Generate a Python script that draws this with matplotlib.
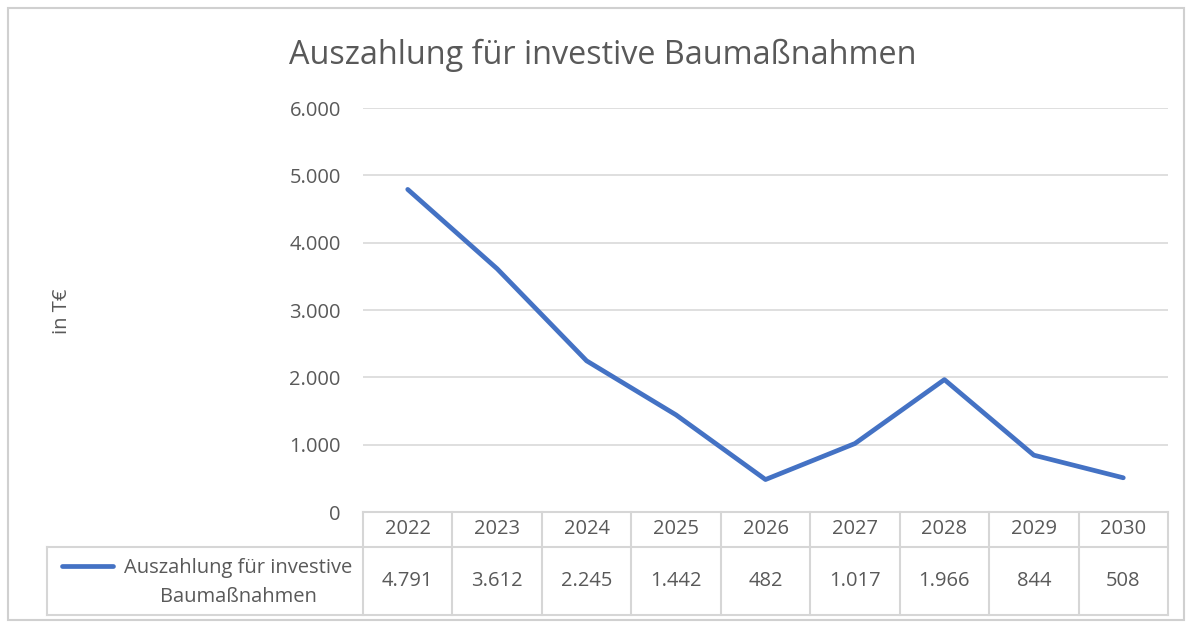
# Excel-style line chart with data table below
import matplotlib
matplotlib.use("Agg")
import matplotlib.pyplot as plt
from matplotlib.patches import Rectangle
from matplotlib.lines import Line2D

years = ["2022", "2023", "2024", "2025", "2026", "2027", "2028", "2029", "2030"]
values = [4791, 3612, 2245, 1442, 482, 1017, 1966, 844, 508]
value_labels = ["4.791", "3.612", "2.245", "1.442", "482", "1.017", "1.966", "844", "508"]
y_ticks = [0, 1000, 2000, 3000, 4000, 5000, 6000]
y_tick_labels = ["0", "1.000", "2.000", "3.000", "4.000", "5.000", "6.000"]
series_name = "Auszahlung für investive\nBaumaßnahmen"
title = "Auszahlung für investive Baumaßnahmen"

plt.rcParams["font.family"] = ["Open Sans", "DejaVu Sans"]
blue = "#4472C4"
txt = "#595959"
grid = "#d9d9d9"
fs = 14.5

W, H = 1190, 624
fig = plt.figure(figsize=(W / 100, H / 100), dpi=100)

def fx(px):
    return px / W

def fy(py):
    return 1 - py / H

# outer chart frame
fig.add_artist(Rectangle((fx(8), fy(620)), fx(1184) - fx(8), fy(8) - fy(620),
                         transform=fig.transFigure, fill=False, ec="#d0d0d0", lw=1.5))

x = list(range(len(years)))
ax = fig.add_axes([fx(363), fy(512), fx(1168) - fx(363), fy(108) - fy(512)])
ax.plot(x, values, color=blue, lw=3.4, solid_capstyle="round")
ax.set_xlim(-0.5, len(years) - 0.5)
ax.set_ylim(0, 6000)
ax.set_yticks(y_ticks)
ax.set_yticklabels(y_tick_labels, color=txt, fontsize=fs)
ax.tick_params(axis="y", length=0, pad=16)
ax.set_xticks([])
ax.grid(axis="y", color=grid, lw=1.2)
for s in ax.spines.values():
    s.set_visible(False)
ax.set_axisbelow(True)
fig.text(fx(603), fy(55), title, ha="center", va="center", fontsize=23.3, color=txt)
fig.text(fx(62), fy(311), "in T€", rotation=90, ha="center", va="center",
         color=txt, fontsize=fs)

# data table
left_px, right_px, top_px, mid_px, bot_px = 47, 1168, 512, 547, 615
col_w = (right_px - 363) / len(years)
left_units = -0.5 - (363 - left_px) / col_w
tax = fig.add_axes([fx(left_px), fy(bot_px), fx(right_px) - fx(left_px), fy(top_px) - fy(bot_px)])
tax.set_xlim(left_units, len(years) - 0.5)
tax.set_ylim(0, bot_px - top_px)
tax.axis("off")
hdr = bot_px - mid_px
tot = bot_px - top_px
lc = "#d6d6d6"
lw = 1.5
tax.plot([-0.5, len(years) - 0.5], [tot, tot], color=lc, lw=lw, clip_on=False)
tax.plot([left_units, len(years) - 0.5], [hdr, hdr], color=lc, lw=lw, clip_on=False)
tax.plot([left_units, len(years) - 0.5], [0, 0], color=lc, lw=lw, clip_on=False)
tax.plot([left_units, left_units], [0, hdr], color=lc, lw=lw, clip_on=False)
for i in range(len(years) + 1):
    tax.plot([i - 0.5, i - 0.5], [0, tot], color=lc, lw=lw, clip_on=False)
for i, (yr, lab) in enumerate(zip(years, value_labels)):
    tax.text(i, (hdr + tot) / 2, yr, ha="center", va="center", color=txt, fontsize=fs)
    tax.text(i, hdr / 2, lab, ha="center", va="center", color=txt, fontsize=fs)

# legend key in label cell
fig.add_artist(Line2D([fx(62), fx(113)], [fy(566), fy(566)], transform=fig.transFigure,
                      color=blue, lw=3.4, solid_capstyle="round"))
fig.text(fx(238), fy(582), series_name, ha="center", va="center", color=txt,
         fontsize=fs, linespacing=1.6)

fig.savefig("out.png", dpi=100)
